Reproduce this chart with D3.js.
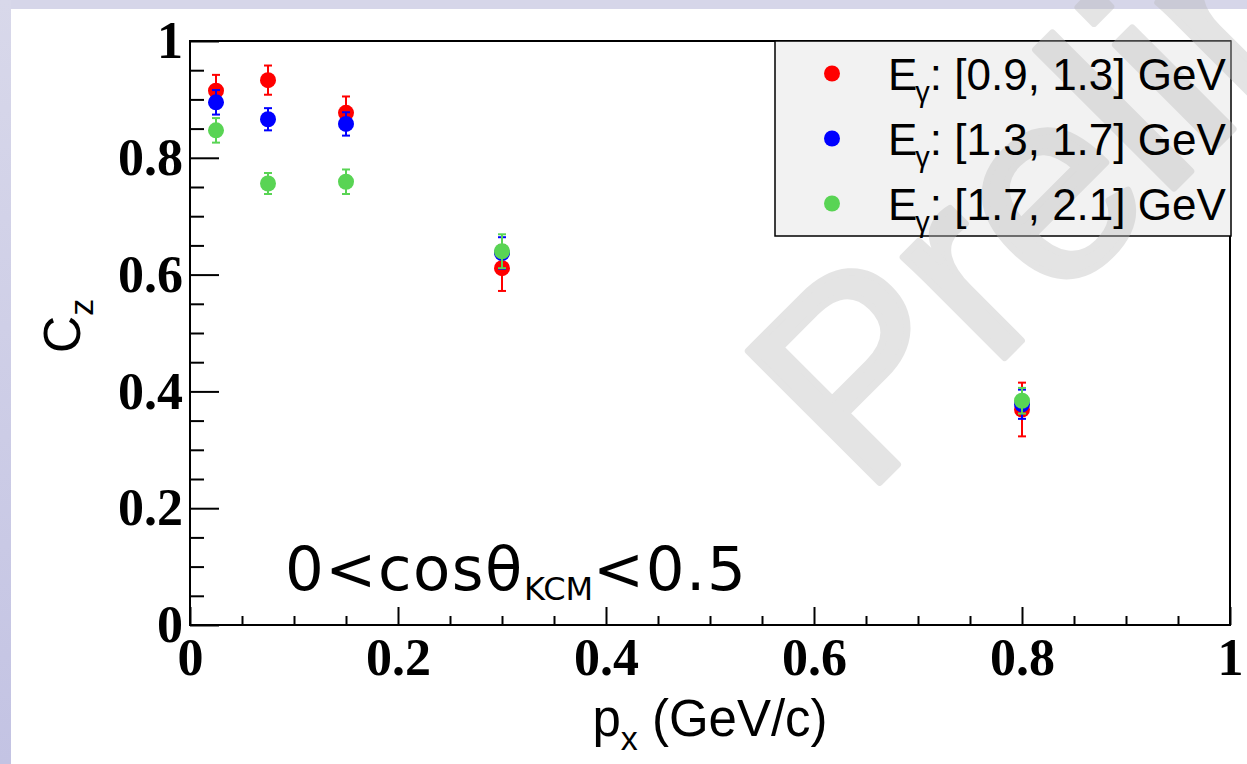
<!DOCTYPE html>
<html>
<head>
<meta charset="utf-8">
<script src="https://cdn.jsdelivr.net/npm/d3@7"></script>
<style>
  html, body { margin: 0; padding: 0; background: #fff; }
  svg { display: block; }
</style>
</head>
<body>
<svg id="chart" width="1247" height="764"></svg>
<script>
// ---- data ----
const pxBins = [0.025, 0.075, 0.15, 0.3, 0.8];
const seriesNames = ["[0.9, 1.3] GeV", "[1.3, 1.7] GeV", "[1.7, 2.1] GeV"];
const seriesColors = ["#ff0000", "#0000ff", "#59d454"];
const czLow  = [0.915, 0.933, 0.877, 0.611, 0.369];
const errLow = [0.027, 0.025, 0.028, 0.039, 0.046];
const czMid  = [0.895, 0.866, 0.858, 0.637, 0.378];
const errMid = [0.021, 0.019, 0.020, 0.027, 0.025];
const czHigh  = [0.847, 0.756, 0.759, 0.640, 0.384];
const errHigh = [0.021, 0.018, 0.021, 0.029, 0.022];
const xMajorTicks = [0, 0.2, 0.4, 0.6, 0.8, 1];
const xTickLabels = ["0", "0.2", "0.4", "0.6", "0.8", "1"];
const yMajorTicks = [0, 0.2, 0.4, 0.6, 0.8, 1];
const yTickLabels = ["0", "0.2", "0.4", "0.6", "0.8", "1"];
const minorTicks = d3.range(0, 1.0001, 0.05).map(v => +v.toFixed(2)).filter(v => !xMajorTicks.includes(v));

const series = [
  { name: seriesNames[0], color: seriesColors[0], y: czLow,  err: errLow },
  { name: seriesNames[1], color: seriesColors[1], y: czMid,  err: errMid },
  { name: seriesNames[2], color: seriesColors[2], y: czHigh, err: errHigh }
];

// ---- layout ----
const svg = d3.select("#chart");
const W = 1247, H = 764;
const frame = { left: 190, right: 1230, top: 41, bottom: 625 };

const x = d3.scaleLinear().domain([0, 1]).range([frame.left, frame.right]);
const y = d3.scaleLinear().domain([0, 1]).range([frame.bottom, frame.top]);

// slide background with lavender border
const defs = svg.append("defs");
const grad = defs.append("linearGradient").attr("id", "sideGrad")
  .attr("x1", 0).attr("y1", 0).attr("x2", 0).attr("y2", 1);
grad.append("stop").attr("offset", "0%").attr("stop-color", "#d8d8ea");
grad.append("stop").attr("offset", "100%").attr("stop-color", "#c3c3e3");

svg.append("rect").attr("width", W).attr("height", H).attr("fill", "#fff");
svg.append("rect").attr("x", 0).attr("y", 0).attr("width", W).attr("height", 9).attr("fill", "#d6d6e9");
svg.append("rect").attr("x", 0).attr("y", 0).attr("width", 11).attr("height", H).attr("fill", "url(#sideGrad)");

// ---- axes ----
const tickFont = "'Liberation Serif', 'Times New Roman', serif";

const xAxis = d3.axisBottom(x).tickValues(xMajorTicks)
  .tickFormat((d, i) => xTickLabels[i]).tickSize(-18).tickPadding(13);
const xMinor = d3.axisBottom(x).tickValues(minorTicks).tickFormat("").tickSize(-9);
const yAxis = d3.axisLeft(y).tickValues(yMajorTicks)
  .tickFormat((d, i) => yTickLabels[i]).tickSize(-29).tickPadding(7);
const yMinor = d3.axisLeft(y).tickValues(minorTicks).tickFormat("").tickSize(-14);

function styleAxis(g) {
  g.select(".domain").remove();
  g.selectAll(".tick line").attr("stroke", "#000").attr("stroke-width", 2);
  g.selectAll(".tick text")
    .attr("font-family", tickFont).attr("font-weight", "bold")
    .attr("font-size", 52).attr("fill", "#000");
}

svg.append("g").attr("transform", `translate(0,${frame.bottom})`).call(xMinor).call(styleAxis);
svg.append("g").attr("transform", `translate(0,${frame.bottom})`).call(xAxis).call(styleAxis);
svg.append("g").attr("transform", `translate(${frame.left},0)`).call(yMinor).call(styleAxis);
svg.append("g").attr("transform", `translate(${frame.left},0)`).call(yAxis).call(styleAxis);

// frame
svg.append("rect")
  .attr("x", frame.left).attr("y", frame.top)
  .attr("width", frame.right - frame.left).attr("height", frame.bottom - frame.top)
  .attr("fill", "none").attr("stroke", "#000").attr("stroke-width", 2);

// axis titles
const sansFont = "'Liberation Sans', Arial, Helvetica, sans-serif";
const xTitle = svg.append("text")
  .attr("x", 710).attr("y", 736)
  .attr("text-anchor", "middle")
  .attr("font-family", sansFont).attr("font-size", 51).attr("fill", "#000");
xTitle.append("tspan").text("p");
xTitle.append("tspan").attr("font-size", 34).attr("dy", 14).text("x");
xTitle.append("tspan").attr("dy", -14).text(" (GeV/c)");

const yTitle = svg.append("text")
  .attr("transform", "translate(80,326) rotate(-90)")
  .attr("text-anchor", "middle")
  .attr("font-family", sansFont).attr("font-size", 52).attr("fill", "#000");
yTitle.append("tspan").text("C");
yTitle.append("tspan").attr("font-size", 34).attr("dy", 13).text("z");

// ---- legend box ----
const legend = { left: 775, right: 1231, top: 41, bottom: 236 };
svg.append("rect")
  .attr("x", legend.left).attr("y", legend.top)
  .attr("width", legend.right - legend.left).attr("height", legend.bottom - legend.top)
  .attr("fill", "#f2f2f2").attr("stroke", "#000").attr("stroke-width", 1.5);

// ---- watermark (semi-transparent, over the legend box) ----
svg.append("g").attr("opacity", 0.38)
  .append("text")
  .attr("transform", "translate(864,498) rotate(-45)")
  .attr("font-family", sansFont).attr("font-size", 270)
  .attr("fill", "rgb(185,185,185)")
  .attr("stroke", "rgb(185,185,185)").attr("stroke-width", 7).attr("stroke-linejoin", "round")
  .text("Preliminary");

// legend entries
const rowH = (legend.bottom - legend.top) / series.length;
series.forEach((s, i) => {
  const cy = legend.top + rowH * (i + 0.5);
  svg.append("circle").attr("cx", 832).attr("cy", cy).attr("r", 8).attr("fill", s.color);
  const t = svg.append("text")
    .attr("x", 888).attr("y", cy + 16)
    .attr("font-family", sansFont).attr("font-size", 44).attr("fill", "#000");
  t.append("tspan").text("E");
  t.append("tspan").attr("font-size", 29).attr("dy", 12).attr("dx", -2).text("γ");
  t.append("tspan").attr("dy", -12).text(": " + s.name);
});

// ---- data points with error bars ----
const capHalf = 4;
series.forEach(s => {
  const g = svg.append("g");
  pxBins.forEach((px, i) => {
    const cx = x(px), lo = y(s.y[i] - s.err[i]), hi = y(s.y[i] + s.err[i]);
    g.append("line").attr("x1", cx).attr("x2", cx).attr("y1", lo).attr("y2", hi)
      .attr("stroke", s.color).attr("stroke-width", 2);
    [lo, hi].forEach(yy => g.append("line")
      .attr("x1", cx - capHalf).attr("x2", cx + capHalf).attr("y1", yy).attr("y2", yy)
      .attr("stroke", s.color).attr("stroke-width", 2));
    g.append("circle").attr("cx", cx).attr("cy", y(s.y[i])).attr("r", 8).attr("fill", s.color);
  });
});

// ---- kinematic range annotation ----
const note = svg.append("text")
  .attr("x", 285).attr("y", 590)
  .attr("font-family", "'DejaVu Sans', sans-serif").attr("font-size", 61)
  .attr("letter-spacing", 1.5).attr("fill", "#000");
note.append("tspan").text("0<cosθ");
note.append("tspan").attr("font-size", 32).attr("letter-spacing", 0).attr("dy", 10).text("KCM");
note.append("tspan").attr("dy", -10).text("<0.5");
</script>
</body>
</html>
